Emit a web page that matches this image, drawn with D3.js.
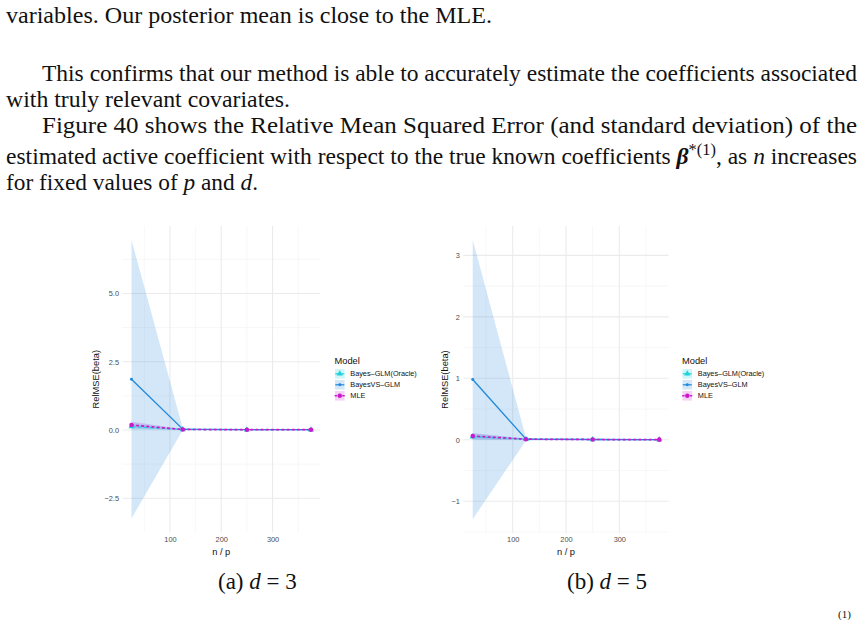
<!DOCTYPE html>
<html>
<head>
<meta charset="utf-8">
<script src="https://cdn.jsdelivr.net/npm/d3@7"></script>
<style>
  html, body { margin: 0; padding: 0; background: #fff; }
  svg { display: block; }
</style>
</head>
<body>
<svg id="page" width="863" height="620"></svg>
<script>
// ── Data ──
const npRatio = [25, 125, 250, 375];
const modelNames = ["Bayes–GLM(Oracle)", "BayesVS–GLM", "MLE"];

// (a) d = 3 : mean and standard deviation of RelMSE(beta)
const oracleMeanD3 = [0.13, 0.02, 0.01, 0.01];
const oracleSdD3 = [0.11, 0.02, 0.01, 0.01];
const bayesVSMeanD3 = [1.86, 0.03, 0.01, 0.01];
const bayesVSSdD3 = [5.1, 0.03, 0.01, 0.01];
const mleMeanD3 = [0.18, 0.02, 0.01, 0.01];
const mleSdD3 = [0.12, 0.02, 0.01, 0.01];

// (b) d = 5
const oracleMeanD5 = [0.05, 0.01, 0.005, 0.003];
const oracleSdD5 = [0.05, 0.01, 0.005, 0.003];
const bayesVSMeanD5 = [0.98, 0.01, 0.005, 0.003];
const bayesVSSdD5 = [2.27, 0.02, 0.01, 0.01];
const mleMeanD5 = [0.06, 0.01, 0.005, 0.003];
const mleSdD5 = [0.05, 0.01, 0.005, 0.003];

const xTicks = [100, 200, 300];
const yTicksD3 = [-2.5, 0, 2.5, 5];
const yTicksD5 = [-1, 0, 1, 2, 3];

const paragraph = [
  { x: 6, y: 23, len: 486, parts: [["variables. Our posterior mean is close to the MLE."]] },
  { x: 42, y: 81, len: 815, parts: [["This confirms that our method is able to accurately estimate the coefficients associated"]] },
  { x: 6, y: 107, len: 284, parts: [["with truly relevant covariates."]] },
  { x: 42, y: 133, len: 815, parts: [["Figure 40 shows the Relative Mean Squared Error (and standard deviation) of the"]] },
  { x: 6, y: 164, len: 851, parts: [["estimated active coefficient with respect to the true known coefficients "], ["β", "bi"], ["*(1)", "sup"], [", as ", "back"], ["n", "i"], [" increases"]] },
  { x: 6, y: 190, len: 252, parts: [["for fixed values of "], ["p", "i"], [" and "], ["d", "i"], ["."]] }
];

const styles = [
  { color: "#1ed2dc", fill: "rgba(30,210,220,0.22)", dash: "4,2", shape: d3.symbolTriangle, size: 16 },
  { color: "#2189da", fill: "rgba(33,137,218,0.2)", dash: null, shape: d3.symbolCircle, size: 7 },
  { color: "#cc17cc", fill: "rgba(160,50,215,0.22)", dash: "1.6,3.6", shape: d3.symbolCircle, size: 16 }
];

const svg = d3.select("#page");
svg.append("rect").attr("width", 863).attr("height", 620).attr("fill", "#fff");

// ── Body text ──
const serif = "'Liberation Serif', 'Times New Roman', serif";
paragraph.forEach((line) => {
  const t = svg.append("text")
    .attr("x", line.x).attr("y", line.y)
    .attr("font-family", serif).attr("font-size", 23).attr("fill", "#111");
  if (line.len) t.attr("textLength", line.len).attr("lengthAdjust", "spacingAndGlyphs");
  line.parts.forEach(([txt, kind]) => {
    const s = t.append("tspan").text(txt);
    if (kind === "i") s.attr("font-style", "italic");
    if (kind === "bi") s.attr("font-style", "italic").attr("font-weight", "bold");
    if (kind === "sup") s.attr("font-size", 16).attr("dy", -9);
    if (kind === "back") s.attr("dy", 9);
  });
});

function caption(x, label, value) {
  const t = svg.append("text")
    .attr("x", x).attr("y", 589)
    .attr("font-family", serif).attr("font-size", 23).attr("fill", "#111");
  t.append("tspan").text(label + " ");
  t.append("tspan").attr("font-style", "italic").text("d");
  t.append("tspan").text(" = " + value);
}
caption(218, "(a)", 3);
caption(567, "(b)", 5);

svg.append("text")
  .attr("x", 838).attr("y", 618)
  .attr("font-family", serif).attr("font-size", 11).attr("fill", "#111")
  .text("(1)");

// ── Panels ──
const sans = "'Liberation Sans', Arial, sans-serif";

function drawPanel(cfg) {
  const g = svg.append("g");
  const series = cfg.means.map((m, i) => ({
    name: modelNames[i],
    style: styles[i],
    values: npRatio.map((x, j) => ({ x, y: m[j], lo: m[j] - cfg.sds[i][j], hi: m[j] + cfg.sds[i][j] }))
  }));

  const xExt = d3.extent(npRatio);
  const xPad = (xExt[1] - xExt[0]) * 0.05;
  const x = d3.scaleLinear().domain([xExt[0] - xPad, xExt[1] + xPad]).range([cfg.left, cfg.right]);

  const allY = series.flatMap((s) => s.values.flatMap((v) => [v.lo, v.hi]));
  const yExt = d3.extent(allY);
  const yPad = (yExt[1] - yExt[0]) * 0.05;
  const y = d3.scaleLinear().domain([yExt[0] - yPad, yExt[1] + yPad]).range([cfg.bottom, cfg.top]);

  // minor breaks halfway between majors
  const minor = (ticks, dom) => {
    const step = ticks[1] - ticks[0];
    const out = [];
    for (let v = ticks[0] - step / 2; v <= dom[1]; v += step) if (v >= dom[0]) out.push(v);
    return out;
  };
  const xMinor = minor(xTicks, x.domain()).filter((v) => !xTicks.includes(v));
  const yMinor = minor(cfg.yTicks, y.domain());

  const grid = g.append("g");
  grid.selectAll(".ymin").data(yMinor).join("line")
    .attr("x1", cfg.left).attr("x2", cfg.right)
    .attr("y1", (d) => y(d)).attr("y2", (d) => y(d))
    .attr("stroke", "#f2f2f2").attr("stroke-width", 0.6);
  grid.selectAll(".xmin").data(xMinor).join("line")
    .attr("y1", cfg.top).attr("y2", cfg.bottom)
    .attr("x1", (d) => x(d)).attr("x2", (d) => x(d))
    .attr("stroke", "#f2f2f2").attr("stroke-width", 0.6);
  grid.selectAll(".ymaj").data(cfg.yTicks).join("line")
    .attr("x1", cfg.left).attr("x2", cfg.right)
    .attr("y1", (d) => y(d)).attr("y2", (d) => y(d))
    .attr("stroke", "#ebebeb").attr("stroke-width", 1.1);
  grid.selectAll(".xmaj").data(xTicks).join("line")
    .attr("y1", cfg.top).attr("y2", cfg.bottom)
    .attr("x1", (d) => x(d)).attr("x2", (d) => x(d))
    .attr("stroke", "#ebebeb").attr("stroke-width", 1.1);

  // axes (labels only, theme_minimal)
  const yAxis = g.append("g")
    .attr("transform", `translate(${cfg.left - 1.5},0)`)
    .call(d3.axisLeft(y).tickValues(cfg.yTicks).tickSize(0).tickPadding(2).tickFormat(d3.format(cfg.yFmt)))
    .call((a) => a.select(".domain").remove());
  yAxis.selectAll("text").attr("font-family", sans).attr("font-size", 7.4).attr("fill", "#4d4d4d");

  const xAxis = g.append("g")
    .attr("transform", `translate(0,${cfg.bottom + 2})`)
    .call(d3.axisBottom(x).tickValues(xTicks).tickSize(0).tickPadding(2))
    .call((a) => a.select(".domain").remove());
  xAxis.selectAll("text").attr("font-family", sans).attr("font-size", 7.4).attr("fill", "#4d4d4d");

  g.append("text")
    .attr("x", (cfg.left + cfg.right) / 2).attr("y", 555)
    .attr("text-anchor", "middle")
    .attr("font-family", sans).attr("font-size", 9.3).attr("fill", "#111")
    .text("n / p");

  g.append("text")
    .attr("transform", `translate(${cfg.yTitleX},${(cfg.top + cfg.bottom) / 2}) rotate(-90)`)
    .attr("text-anchor", "middle")
    .attr("font-family", sans).attr("font-size", 9.3).attr("fill", "#111")
    .text("RelMSE(beta)");

  // ribbons: BayesVS first, then Oracle, then MLE
  const area = d3.area().x((d) => x(d.x)).y0((d) => y(d.lo)).y1((d) => y(d.hi));
  [1, 0, 2].forEach((i) => {
    g.append("path").attr("d", area(series[i].values)).attr("fill", series[i].style.fill);
  });

  const line = d3.line().x((d) => x(d.x)).y((d) => y(d.y));
  [0, 1, 2].forEach((i) => {
    const st = series[i].style;
    g.append("path")
      .attr("d", line(series[i].values))
      .attr("fill", "none").attr("stroke", st.color)
      .attr("stroke-width", i === 2 ? 1.7 : 1.3)
      .attr("stroke-linecap", i === 2 ? "round" : "butt")
      .attr("stroke-dasharray", st.dash);
  });
  [0, 1, 2].forEach((i) => {
    const st = series[i].style;
    g.selectAll(null).data(series[i].values).join("path")
      .attr("transform", (d) => `translate(${x(d.x)},${y(d.y)})`)
      .attr("d", d3.symbol(st.shape, st.size))
      .attr("fill", st.color);
  });

  // legend
  const lg = g.append("g").attr("transform", `translate(${cfg.legendX},0)`);
  lg.append("text")
    .attr("x", 0).attr("y", 363.5)
    .attr("font-family", sans).attr("font-size", 9.3).attr("fill", "#111")
    .text("Model");
  const rows = [373.8, 384.8, 395.8];
  series.forEach((s, i) => {
    const r = lg.append("g").attr("transform", `translate(0,${rows[i]})`);
    r.append("rect").attr("x", 0.5).attr("y", -4.8).attr("width", 9.6).attr("height", 9.6)
      .attr("fill", i === 2 ? "rgba(204,23,204,0.2)" : s.style.fill);
    r.append("line").attr("x1", 0.8).attr("x2", 9.8).attr("y1", 0).attr("y2", 0)
      .attr("stroke", s.style.color).attr("stroke-width", i === 2 ? 1.6 : 1.2)
      .attr("stroke-linecap", i === 2 ? "round" : "butt")
      .attr("stroke-dasharray", i === 2 ? "1.2,2.6" : null);
    r.append("path").attr("transform", "translate(5.3,0)")
      .attr("d", d3.symbol(s.style.shape, s.style.size)).attr("fill", s.style.color);
    r.append("text")
      .attr("x", 15.8).attr("y", 2.6)
      .attr("font-family", sans).attr("font-size", 7.3).attr("fill", "#111")
      .text(s.name);
  });
}

drawPanel({
  means: [oracleMeanD3, bayesVSMeanD3, mleMeanD3],
  sds: [oracleSdD3, bayesVSSdD3, mleSdD3],
  yTicks: yTicksD3, yFmt: ".1f",
  left: 122.5, right: 320, top: 226, bottom: 532.4,
  yTitleX: 99, legendX: 334.5
});

drawPanel({
  means: [oracleMeanD5, bayesVSMeanD5, mleMeanD5],
  sds: [oracleSdD5, bayesVSSdD5, mleSdD5],
  yTicks: yTicksD5, yFmt: "d",
  left: 463.4, right: 668.6, top: 226, bottom: 533.1,
  yTitleX: 447.5, legendX: 682
});
</script>
</body>
</html>
